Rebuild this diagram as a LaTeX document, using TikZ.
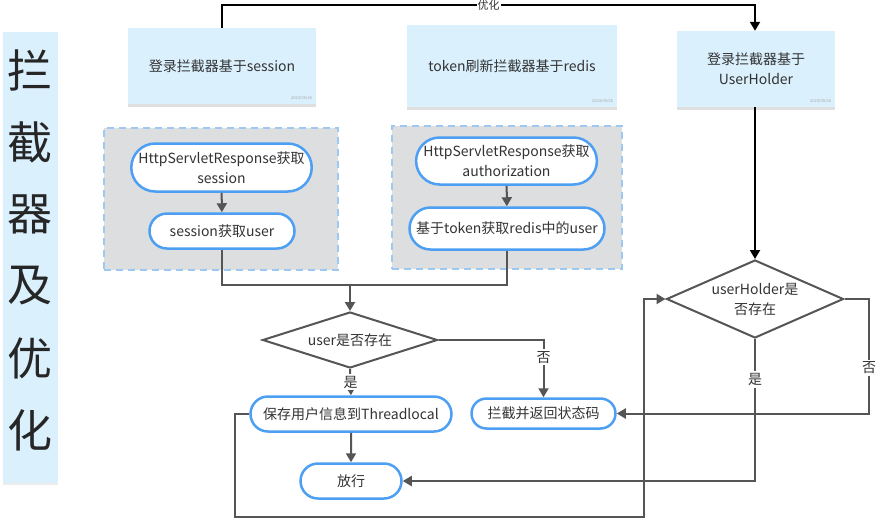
\documentclass[tikz,border=0pt]{standalone}
\usepackage{fontspec}
\setmainfont{Noto Sans CJK SC}
\usetikzlibrary{arrows.meta,positioning,shapes.geometric,shapes.misc,shadows}
\definecolor{notebg}{HTML}{DAF0FD}
\definecolor{groupbg}{HTML}{DDDEE0}
\definecolor{groupline}{HTML}{9CC8F2}
\definecolor{pillline}{HTML}{4C9FF2}
\definecolor{flowline}{HTML}{555555}
\definecolor{txt}{HTML}{333333}

\begin{document}
\begin{tikzpicture}[
  x=1pt,y=-1pt,
  note/.style={rectangle,fill=notebg,draw=none,align=center,text=txt,font=\fontsize{14}{20}\selectfont,
    drop shadow={shadow xshift=0pt,shadow yshift=-3pt,opacity=0.25,fill=gray}},
  stamp/.style={font=\fontsize{4}{4}\selectfont,text=gray!70,inner sep=1pt,anchor=south east},
  group/.style={rectangle,fill=groupbg,draw=groupline,dash pattern=on 7pt off 5pt,line width=1.6pt},
  pill/.style={rounded rectangle,draw=pillline,line width=2.5pt,fill=white,align=center,text=txt,
    inner sep=1pt,font=\fontsize{14}{20}\selectfont},
  decide/.style={diamond,draw=flowline,line width=2pt,fill=white,align=center,text=txt,inner sep=0pt,
    font=\fontsize{14}{20}\selectfont},
  flow/.style={draw=flowline,line width=2pt},
  arr/.style={-{Triangle[length=9pt,width=10pt]},draw=flowline,line width=2pt},
  arrk/.style={-{Triangle[length=9pt,width=10pt]},draw=black,line width=2pt},
  tag/.style={fill=white,text=txt,inner sep=2pt,font=\fontsize{14}{16}\selectfont},
]
\useasboundingbox (0,0) rectangle (877,520);

% title band
\node[rectangle,fill=notebg,minimum width=55pt,minimum height=451pt,
  drop shadow={shadow xshift=0pt,shadow yshift=-2pt,opacity=0.15,fill=gray}] (band) at (30.5,257.5) {};
\foreach \ch [count=\i] in {拦,截,器,及,优,化}
  \node[font=\fontsize{45}{45}\selectfont,text=black!85] (title\i) at (30,{72*\i-2}) {\ch};

% sticky notes
\node[note,minimum width=188pt,minimum height=76pt] (n1) at (222,66) {登录拦截器基于session};
\node[note,minimum width=210pt,minimum height=82pt] (n2) at (512,66) {token刷新拦截器基于redis};
\node[note,minimum width=158pt,minimum height=76pt] (n3) at (756,69) {登录拦截器基于\\UserHolder};
\node[stamp] (d1) at ([shift={(-3pt,3pt)}]n1.south east) {2023/09/26};
\node[stamp] (d2) at ([shift={(-3pt,3pt)}]n2.south east) {2023/09/26};
\node[stamp] (d3) at ([shift={(-3pt,3pt)}]n3.south east) {2023/09/26};

% groups
\node[group,minimum width=234pt,minimum height=142pt] (grp1) at (221,199) {};
\node[group,minimum width=230pt,minimum height=143pt] (grp2) at (507,197.5) {};

% steps
\node[pill,minimum width=180pt,minimum height=48pt] (t1) at (221.5,167.5) {HttpServletResponse获取\\session};
\node[pill,minimum width=147pt,minimum height=35pt] (t2) at (222,231) {session获取user};
\node[pill,minimum width=178pt,minimum height=47pt] (t3) at (506.5,161) {HttpServletResponse获取\\authorization};
\node[pill,minimum width=197pt,minimum height=42pt] (t4) at (507,228.5) {基于token获取redis中的user};
\node[decide,aspect=3.1,minimum width=175pt,minimum height=56pt] (q1) at (350,340) {user是否存在};
\node[decide,aspect=2.27,minimum width=177pt,minimum height=78pt] (q2) at (755,299) {userHolder是\\否存在};
\node[pill,minimum width=203pt,minimum height=35pt] (t5) at (351,414) {保存用户信息到Threadlocal};
\node[pill,minimum width=146pt,minimum height=30pt] (t6) at (543.5,413.5) {拦截并返回状态码};
\node[pill,minimum width=103pt,minimum height=35pt] (t7) at (351,481) {放行};

\coordinate (join) at (350,285);
\coordinate (loopbl) at (235,517);
\coordinate (loopbr) at (644,517);
\coordinate (edge) at (869,299);

% connectors
\draw[arrk] (n1.north) -- (222,5) -- node[tag,inner sep=1pt,font=\fontsize{11}{12}\selectfont]{优化} (755,5) -- (n3.north -| 755,0);
\draw[arrk] (n3.south -| 755,0) -- (q2.north);
\draw[arr] (t1) -- (t2);
\draw[arr] (t3) -- (t4);
\draw[flow] (t2.south) |- (join);
\draw[flow] (t4.south) |- (join);
\draw[arr] (join) -- (q1.north);
\draw[arr] (q1.east) -| node[tag,pos=0.65]{否} (t6.north);
\draw[arr] (q1.south) -- node[tag]{是} (t5.north);
\draw[arr] (t5) -- (t7);
\draw[arr] (t5.west) -| (loopbl) -- (loopbr) |- (q2.west);
\draw[arr] (q2.east) -- (edge) |- node[tag,pos=0.3]{否} (t6.east);
\draw[arr] (q2.south) |- node[tag,pos=0.143]{是} (t7.east);
\end{tikzpicture}
\end{document}
